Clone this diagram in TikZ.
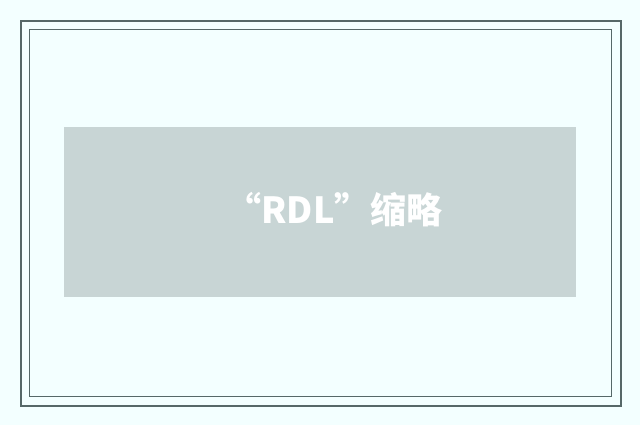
\documentclass[tikz,border=0pt]{standalone}
\usepackage{fontspec}
\usepackage{xcolor}
\newfontfamily\cjk{Noto Sans CJK SC}
\definecolor{bgcyan}{HTML}{F3FFFF}
\definecolor{edgegray}{HTML}{566868}
\definecolor{boxgray}{HTML}{C8D5D5}
\begin{document}
\begin{tikzpicture}[x=1pt,y=-1pt,
    frame/.style={draw=edgegray},
    panel/.style={fill=boxgray,inner sep=0pt,minimum width=512pt,minimum height=170pt},
    caption/.style={text=white,font=\cjk\bfseries\fontsize{36}{42}\selectfont,inner sep=0pt}]
    \useasboundingbox (0,0) rectangle (640,425);
    \fill [bgcyan] (0,0) rectangle (640,425);
    \coordinate (o1) at (21,21);
    \coordinate (o2) at (620.5,406);
    \coordinate (i1) at (29.5,29.5);
    \coordinate (i2) at (611.5,396.5);
    \draw [frame,line width=2pt] (o1) rectangle (o2);
    \draw [frame,line width=1.2pt] (i1) rectangle (i2);
    \node [panel] (p) at (320,212) {};
    \node [caption] (t) at (334,210) {“RDL”缩略};
  \end{tikzpicture}
\end{document}
